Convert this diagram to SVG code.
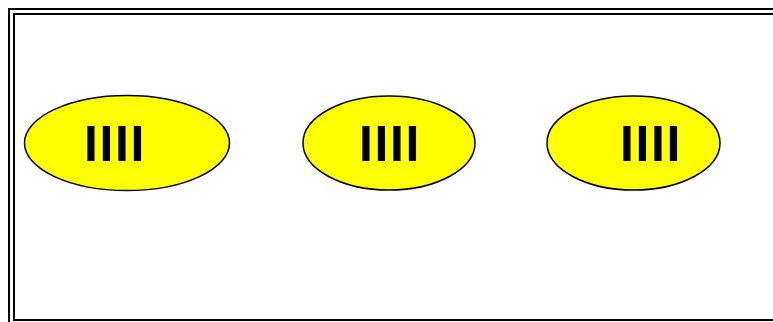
<svg xmlns="http://www.w3.org/2000/svg" width="773" height="322" viewBox="0 0 773 322">
<style>
.frame{fill:none;stroke:#000;stroke-width:2}
.node ellipse{fill:#ffff00;stroke:#000;stroke-width:1.5}
.node text{font-family:"Liberation Sans",Arial,sans-serif;font-weight:bold;font-size:50px;letter-spacing:1.6px;fill:#000}
</style>
<rect width="773" height="322" fill="#fff"/>
<rect class="frame" x="9" y="9" width="780" height="320"/>
<rect class="frame" x="14" y="14" width="770" height="306"/>
<g id="connectors"/>
<g id="n1" class="node">
<ellipse cx="127" cy="143" rx="102.5" ry="47.5"/>
<text x="84" y="160.5">IIII</text>
</g>
<g id="n2" class="node">
<ellipse cx="389" cy="143" rx="86" ry="47"/>
<text x="359" y="160.5">IIII</text>
</g>
<g id="n3" class="node">
<ellipse cx="633.5" cy="143" rx="86.5" ry="47"/>
<text x="620" y="160.5">IIII</text>
</g>
</svg>
